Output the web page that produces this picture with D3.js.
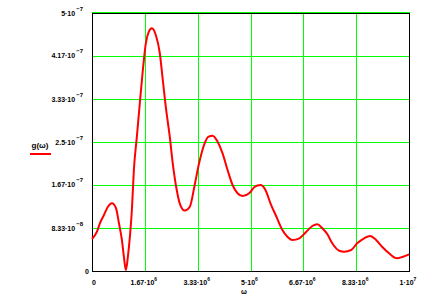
<!DOCTYPE html>
<html>
<head>
<meta charset="utf-8">
<script src="https://cdn.jsdelivr.net/npm/d3@7"></script>
<style>
  body { margin: 0; background: #fff; }
  text { font-family: "Liberation Sans", Arial, sans-serif; font-weight: bold; fill: #000; }
</style>
</head>
<body>
<div id="chart"></div>
<script>
// g(w)
var omega = [0, 0.157e6, 0.252e6, 0.377e6, 0.503e6, 0.629e6, 0.755e6, 0.849e6, 0.943e6, 1.006e6,
  1.069e6, 1.132e6, 1.195e6, 1.258e6, 1.321e6, 1.415e6, 1.509e6, 1.604e6, 1.698e6, 1.793e6,
  1.887e6, 2.013e6, 2.138e6, 2.233e6, 2.327e6, 2.453e6, 2.547e6, 2.673e6, 2.767e6, 2.925e6,
  3.082e6, 3.239e6, 3.365e6, 3.553e6, 3.679e6, 3.805e6, 3.962e6, 4.119e6, 4.277e6, 4.434e6,
  4.591e6, 4.748e6, 4.969e6, 5.126e6, 5.314e6, 5.472e6, 5.629e6, 5.818e6, 6.006e6, 6.164e6,
  6.321e6, 6.541e6, 6.761e6, 6.950e6, 7.107e6, 7.264e6, 7.421e6, 7.579e6, 7.799e6, 7.956e6,
  8.176e6, 8.365e6, 8.585e6, 8.774e6, 8.962e6, 9.151e6, 9.371e6, 9.623e6, 9.811e6, 10e6];
var g = [0.620e-7, 0.762e-7, 0.930e-7, 1.085e-7, 1.246e-7, 1.312e-7, 1.221e-7, 0.930e-7, 0.601e-7, 0.277e-7,
  0.019e-7, 0.277e-7, 0.665e-7, 1.182e-7, 1.957e-7, 2.603e-7, 3.256e-7, 3.895e-7, 4.413e-7, 4.638e-7,
  4.704e-7, 4.574e-7, 4.225e-7, 3.702e-7, 3.184e-7, 2.603e-7, 2.087e-7, 1.570e-7, 1.312e-7, 1.172e-7,
  1.240e-7, 1.667e-7, 2.054e-7, 2.475e-7, 2.603e-7, 2.622e-7, 2.506e-7, 2.281e-7, 1.957e-7, 1.667e-7,
  1.506e-7, 1.454e-7, 1.512e-7, 1.628e-7, 1.667e-7, 1.570e-7, 1.312e-7, 1.052e-7, 0.795e-7, 0.665e-7,
  0.601e-7, 0.634e-7, 0.762e-7, 0.872e-7, 0.905e-7, 0.828e-7, 0.717e-7, 0.537e-7, 0.393e-7, 0.374e-7,
  0.407e-7, 0.537e-7, 0.634e-7, 0.678e-7, 0.601e-7, 0.471e-7, 0.343e-7, 0.246e-7, 0.277e-7, 0.324e-7];

var xTicks = [0, 1.667e6, 3.333e6, 5e6, 6.667e6, 8.333e6, 1e7];
var xTickBase = ["0", "1.67\u00b710", "3.33\u00b710", "5\u00b710", "6.67\u00b710", "8.33\u00b710", "1\u00b710"];
var xTickExp = ["", "6", "6", "6", "6", "6", "7"];

var yTicks = [0, 0.8333e-7, 1.667e-7, 2.5e-7, 3.333e-7, 4.167e-7, 5e-7];
var yTickBase = ["0", "8.33\u00b710", "1.67\u00b710", "2.5\u00b710", "3.33\u00b710", "4.17\u00b710", "5\u00b710"];
var yTickExp = ["", "\u22128", "\u22127", "\u22127", "\u22127", "\u22127", "\u22127"];

var W = 435, H = 299;
var svg = d3.select('#chart').append('svg')
  .attr('width', W).attr('height', H);

var x = d3.scaleLinear().domain([0, 1e7]).range([92, 409]);
var y = d3.scaleLinear().domain([0, 5e-7]).range([271, 13]);

// grid
svg.selectAll('line.gx').data(xTicks.slice(1, -1)).enter().append('line')
  .attr('x1', function(d) { return Math.round(x(d)) + 0.5; })
  .attr('x2', function(d) { return Math.round(x(d)) + 0.5; })
  .attr('y1', y(0)).attr('y2', y(5e-7))
  .attr('stroke', '#00ff00').attr('stroke-width', 1);

svg.selectAll('line.gy').data(yTicks.slice(1)).enter().append('line')
  .attr('y1', function(d) { return Math.round(y(d)) + 0.5; })
  .attr('y2', function(d) { return Math.round(y(d)) + 0.5; })
  .attr('x1', x(0)).attr('x2', x(1e7))
  .attr('stroke', '#00ff00').attr('stroke-width', 1);

// frame
svg.append('rect')
  .attr('x', 92.5).attr('y', 13.5)
  .attr('width', 317).attr('height', 258)
  .attr('fill', 'none').attr('stroke', '#000').attr('stroke-width', 1);
svg.append('line').attr('x1', 92).attr('x2', 410).attr('y1', 12.5).attr('y2', 12.5)
  .attr('stroke', '#00ff00');

// curve
var line = d3.line()
  .x(function(d, i) { return x(omega[i]); })
  .y(function(d) { return y(d); })
  .curve(d3.curveMonotoneX);

svg.append('path')
  .datum(g)
  .attr('d', line)
  .attr('fill', 'none')
  .attr('stroke', '#ff0000')
  .attr('stroke-width', 2);

// y tick labels
var yl = svg.selectAll('text.yt').data(yTicks).enter().append('text')
  .attr('class', 'yt')
  .attr('x', function(d, i) { return i == 0 ? 89 : 83; })
  .attr('y', function(d) { return y(d) + 2.5; })
  .attr('text-anchor', 'end')
  .style('font-size', '7px');
yl.append('tspan').text(function(d, i) { return yTickBase[i]; });
yl.append('tspan')
  .attr('dy', -5).attr('dx', 1)
  .style('font-size', '6px')
  .text(function(d, i) { return yTickExp[i]; });

// x tick labels
var xl = svg.selectAll('text.xt').data(xTicks).enter().append('text')
  .attr('class', 'xt')
  .attr('x', function(d, i) { return i == 0 ? 94 : x(d) - 1; })
  .attr('y', 285)
  .attr('text-anchor', 'middle')
  .style('font-size', '7px');
xl.append('tspan').text(function(d, i) { return xTickBase[i]; });
xl.append('tspan')
  .attr('dy', -4)
  .style('font-size', '5px')
  .text(function(d, i) { return xTickExp[i]; });

// axis titles
svg.append('text').attr('x', 244).attr('y', 294)
  .attr('text-anchor', 'middle').style('font-size', '7px').text('\u03c9');

svg.append('text').attr('x', 40).attr('y', 148)
  .attr('text-anchor', 'middle').style('font-size', '8px').text('g(\u03c9)');
svg.append('line').attr('x1', 30).attr('x2', 51).attr('y1', 154).attr('y2', 154)
  .attr('stroke', '#ff0000').attr('stroke-width', 2);
</script>
</body>
</html>
